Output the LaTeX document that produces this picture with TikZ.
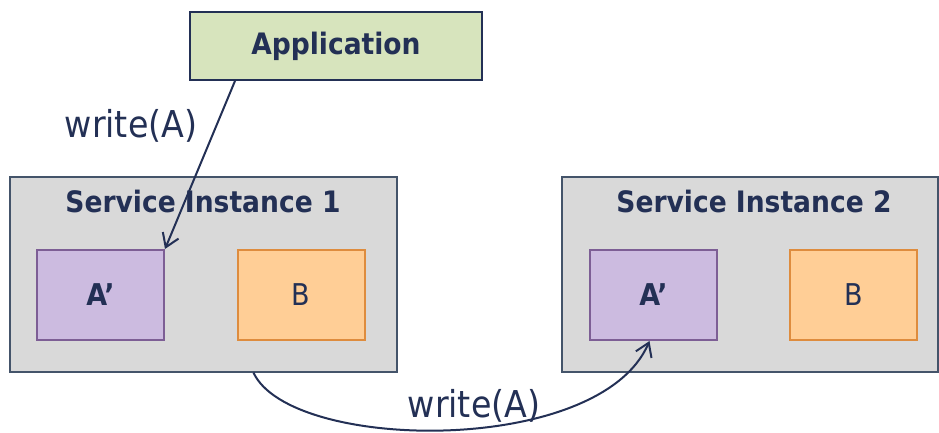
\documentclass[tikz,border=0pt]{standalone}
\usepackage{fontspec}
\setmainfont{DejaVu Sans Condensed}
\usetikzlibrary{arrows.meta}

\definecolor{ink}{RGB}{35,48,85}
\definecolor{appfill}{RGB}{215,228,189}
\definecolor{sifill}{RGB}{217,217,217}
\definecolor{siline}{RGB}{68,84,106}
\definecolor{afill}{RGB}{204,187,224}
\definecolor{aline}{RGB}{125,94,149}
\definecolor{bfill}{RGB}{255,206,150}
\definecolor{bline}{RGB}{222,140,62}

\tikzset{
	box/.style={draw,line width=2pt,inner sep=0pt,text=ink},
	appbox/.style={box,fill=appfill,draw=ink,line width=1.5pt,minimum width=292pt,minimum height=68pt,
		font=\fontsize{29.5}{35}\selectfont\bfseries},
	sibox/.style={box,fill=sifill,draw=siline,line width=1.2pt,minimum width=#1,minimum height=195pt},
	title/.style={text=ink,font=\fontsize{29.5}{35}\selectfont\bfseries},
	abox/.style={box,fill=afill,draw=aline,minimum width=127pt,minimum height=90pt,
		font=\fontsize{30}{36}\selectfont\bfseries},
	bbox/.style={box,fill=bfill,draw=bline,minimum width=127pt,minimum height=90pt,
		font=\fontsize{30}{36}\selectfont},
	lbl/.style={text=ink,font=\fontsize{37}{44}\selectfont},
	wire/.style={draw=ink,line width=2pt,-{Straight Barb[length=13pt,width=17pt,line width=2pt]}}
}

\begin{document}
\begin{tikzpicture}[x=1pt,y=-1pt]
	\useasboundingbox (0,0) rectangle (939,432);

	%application
	\node[appbox] (app) at (336,46) {Application};

	%service instance 1
	\node[sibox=387pt] (si1) at (203.5,274.5) {};
	\node[title] (t1) at (203,201) {Service Instance 1};
	\node[abox] (a1) at (100.5,295) {A’};
	\node[bbox] (b1) at (301,295) {B};

	%service instance 2
	\node[sibox=376pt] (si2) at (750,274.5) {};
	\node[title] (t2) at (754,201) {Service Instance 2};
	\node[abox] (a2) at (653.5,295) {A’};
	\node[bbox] (b2) at (853.5,295) {B};

	%writes
	\draw[wire] (app.-161) -- (a1.north east);
	\node[lbl] (w1) at (131,126) {write(A)};
	%
	\draw[wire] (si1.-63) .. controls (290,452) and (600,457) .. (a2.-95);
	\node[lbl] (w2) at (474,406) {write(A)};
\end{tikzpicture}
\end{document}
